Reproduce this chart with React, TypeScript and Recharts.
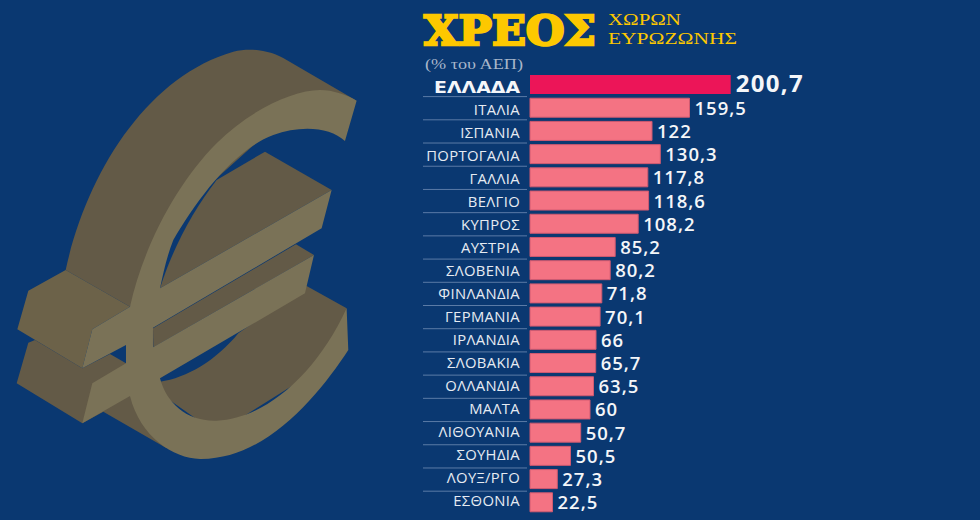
import { BarChart, Bar, Cell, XAxis, YAxis, LabelList } from 'recharts'

const countries = [
  'ΕΛΛΑΔΑ', 'ΙΤΑΛΙΑ', 'ΙΣΠΑΝΙΑ', 'ΠΟΡΤΟΓΑΛΙΑ', 'ΓΑΛΛΙΑ', 'ΒΕΛΓΙΟ', 'ΚΥΠΡΟΣ',
  'ΑΥΣΤΡΙΑ', 'ΣΛΟΒΕΝΙΑ', 'ΦΙΝΛΑΝΔΙΑ', 'ΓΕΡΜΑΝΙΑ', 'ΙΡΛΑΝΔΙΑ', 'ΣΛΟΒΑΚΙΑ',
  'ΟΛΛΑΝΔΙΑ', 'ΜΑΛΤΑ', 'ΛΙΘΟΥΑΝΙΑ', 'ΣΟΥΗΔΙΑ', 'ΛΟΥΞ/ΡΓΟ', 'ΕΣΘΟΝΙΑ',
]

// bar lengths as drawn; Sweden's bar is drawn shorter than its printed 50,5
const barValues = [
  200.7, 159.5, 122, 130.3, 117.8, 118.6, 108.2, 85.2, 80.2, 71.8, 70.1, 66,
  65.7, 63.5, 60, 50.7, 40.5, 27.3, 22.5,
]

const printedValues = [
  '200,7', '159,5', '122', '130,3', '117,8', '118,6', '108,2', '85,2', '80,2',
  '71,8', '70,1', '66', '65,7', '63,5', '60', '50,7', '50,5', '27,3', '22,5',
]

const data = countries.map((name, i) => ({
  name,
  value: barValues[i],
  printed: printedValues[i],
}))

const labelFont = '"Open Sans", "Noto Sans", sans-serif'

const CountryTick = ({ x, y, payload, index }: any) => {
  const first = index === 0
  const last = index === countries.length - 1
  // the country names sit on a slightly tighter pitch than the bars
  const drift = 7.3 - (index - 1) * 0.19
  return (
    <g>
      {first ? (
        <text
          x={x - 86}
          y={y + 8}
          fill="#f4f6f9"
          fontFamily='"DejaVu Sans", sans-serif'
          fontSize={16}
          fontWeight={700}
          textLength={86}
          lengthAdjust="spacingAndGlyphs"
        >
          {payload.value}
        </text>
      ) : (
        <text
          x={x}
          y={y + drift}
          textAnchor="end"
          fill="#e6ebf2"
          fontFamily={labelFont}
          fontSize={14.8}
          letterSpacing={0.35}
        >
          {payload.value}
        </text>
      )}
      {!last && <line x1={x - 97} x2={x + 7} y1={y + 12} y2={y + 12} stroke="#5b7ba6" strokeWidth={1} />}
    </g>
  )
}

const ValueLabel = ({ x, y, width, height, value, index }: any) => {
  const first = index === 0
  return (
    <text
      x={x + width + 5}
      y={y + height / 2 + 7}
      fill="#f4f6f9"
      fontFamily={labelFont}
      fontSize={first ? 24 : 18.5}
      fontWeight={first ? 700 : 600}
      letterSpacing={first ? 1.3 : 1}
    >
      {value}
    </text>
  )
}

// decorative 3D euro sign behind the chart
const EuroSign = () => (
  <g transform="translate(0,60) scale(0.3333)">
    <path
      fill="#635a47"
      d="M197,630 C260,340 440,50 700,-25 C760,-40 820,-25 860,0 L1070,122 L900,130 L600,400 L390,740 Z"
    />
    <path fill="#635a47" d="M480,685 C520,560 580,450 650,360 L795,275 L995,390 Z" />
    <path fill="#635a47" d="M459,805 L888,553 L942,585 L460,862 Z" />
    <path
      fill="#635a47"
      d="M920,678 L1040,745 L1000,900 L650,1120 L480,1000 L480,965 C560,955 650,900 715,820 Z"
    />
    <path
      fill="#635a47"
      d="M85,848 L50,970 L247,1090 L310,1055 L500,1165 L420,1000 L378,910 L330,882 L247,925 L105,840 Z"
    />
    <path fill="#6c6249" d="M197,630 L85,692 L52,808 L247,925 L277,808 L390,740 Z" />
    <path
      fill="#7a7257"
      d="M1070,122 L1035,243 C990,200 900,195 820,225 C700,270 590,420 520,540 C500,590 490,640 480,685 L995,390 L965,505 L459,803 L459,862 L942,585 L915,700 L480,955 C500,1030 560,1085 650,1082 C800,1075 950,940 1040,745 L1045,870 C960,1000 800,1200 600,1197 C520,1195 420,1130 390,1008 L247,1090 L277,970 L378,910 L378,855 L247,925 L277,808 L390,740 C430,560 530,370 650,250 C750,150 880,90 960,90 C1000,90 1040,105 1070,122 Z"
    />
  </g>
)

export default function App() {
  return (
    <div style={{ position: 'fixed', left: 0, top: 0, width: 980, height: 520, background: '#0a3871', overflow: 'hidden' }}>
      <svg width={980} height={520} style={{ position: 'absolute', left: 0, top: 0 }}>
        <EuroSign />
        <text
          x={424}
          y={45}
          fill="#fdc800"
          stroke="#fdc800"
          strokeWidth={2.4}
          fontFamily='"DejaVu Serif", serif'
          fontWeight={700}
          fontSize={41}
          textLength={172}
          lengthAdjust="spacingAndGlyphs"
        >
          ΧΡΕΟΣ
        </text>
        <text x={608} y={25} fill="#fdc800" fontFamily='"Liberation Serif", serif' fontSize={17.5} textLength={73} lengthAdjust="spacingAndGlyphs">
          ΧΩΡΩΝ
        </text>
        <text x={608} y={44} fill="#fdc800" fontFamily='"Liberation Serif", serif' fontSize={17.5} textLength={129} lengthAdjust="spacingAndGlyphs">
          ΕΥΡΩΖΩΝΗΣ
        </text>
        <text x={425} y={68.5} fill="#a8b6ca" fontFamily='"Liberation Serif", serif' fontSize={15} textLength={98} lengthAdjust="spacingAndGlyphs">
          (% του ΑΕΠ)
        </text>
      </svg>
      <div style={{ position: 'absolute', left: 0, top: 0 }}>
        <BarChart
          width={980}
          height={520}
          data={data}
          layout="vertical"
          margin={{ top: 73, right: 0, bottom: 6, left: 0 }}
          barCategoryGap={4}
        >
          <XAxis type="number" domain={[0, 450]} hide />
          <YAxis
            type="category"
            dataKey="name"
            width={530}
            axisLine={false}
            tickLine={false}
            tickSize={0}
            tickMargin={10}
            interval={0}
            tick={<CountryTick />}
          />
          <Bar dataKey="value" barSize={19} isAnimationActive={false}>
            {data.map((d, i) => (
              <Cell key={d.name} fill={i === 0 ? '#ec1558' : '#f47383'} stroke={i === 0 ? 'none' : '#cf5a70'} strokeWidth={1} />
            ))}
            <LabelList dataKey="printed" content={<ValueLabel />} />
          </Bar>
        </BarChart>
      </div>
    </div>
  )
}
